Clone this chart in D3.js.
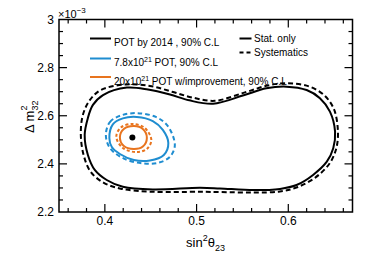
<!DOCTYPE html>
<html>
<head>
<meta charset="utf-8">
<script src="https://cdn.jsdelivr.net/npm/d3@7"></script>
<style>
  body { margin: 0; background: #fff; }
  text { font-family: "Liberation Sans", Arial, sans-serif; fill: #000; }
</style>
</head>
<body>
<div id="chart"></div>
<script>
// contour points: [sin^2 theta23, dm^2_32 (x1e-3)]
let stat2014 = [
    [0.378,2.520],[0.3815,2.591],[0.387,2.645],[0.398,2.686],[0.424,2.717],[0.447,2.709],
    [0.471,2.688],[0.492,2.664],[0.518,2.650],[0.5505,2.684],[0.576,2.714],
    [0.598,2.721],[0.620,2.707],[0.6345,2.673],[0.6454,2.617],[0.651,2.534],[0.649,2.465],
    [0.642,2.409],[0.627,2.354],[0.609,2.312],[0.591,2.296],[0.562,2.291],[0.5254,2.298],
    [0.5036,2.301],[0.4523,2.294],[0.4196,2.305],[0.402,2.333],[0.389,2.375],[0.3815,2.437]
];
let syst2014 = [
    [0.3738,2.520],[0.376,2.603],[0.3836,2.665],[0.3956,2.707],[0.4229,2.730],[0.4491,2.724],
    [0.4731,2.700],[0.495,2.676],[0.520,2.662],[0.5527,2.697],[0.5778,2.726],
    [0.5996,2.735],[0.6225,2.722],[0.6389,2.686],[0.6497,2.628],[0.6541,2.537],[0.6524,2.466],
    [0.6454,2.404],[0.6301,2.345],[0.6105,2.304],[0.5908,2.285],[0.5614,2.281],[0.5254,2.283],
    [0.5036,2.284],[0.4523,2.284],[0.4185,2.296],[0.3989,2.321],[0.3847,2.366],[0.3771,2.433]
];
let stat78 = [
    [0.4049,2.508],[0.4087,2.564],[0.4196,2.589],[0.4349,2.595],[0.4523,2.578],[0.4632,2.541],
    [0.4692,2.487],[0.4643,2.437],[0.4491,2.414],[0.4316,2.416],[0.4164,2.441],[0.4076,2.470]
];
let syst78 = [
    [0.4011,2.520],[0.4055,2.574],[0.4174,2.601],[0.4349,2.611],[0.4556,2.595],[0.4687,2.557],
    [0.4763,2.478],[0.4709,2.429],[0.4578,2.404],[0.4414,2.402],[0.4207,2.422],[0.4055,2.466]
];
let stat20 = [
    [0.4164,2.512],[0.4207,2.545],[0.4316,2.557],[0.4414,2.545],[0.4458,2.508],[0.4414,2.472],
    [0.4316,2.462],[0.4207,2.474]
];
let syst20 = [
    [0.4125,2.512],[0.4174,2.551],[0.4305,2.566],[0.4436,2.549],[0.4507,2.499],[0.4458,2.462],
    [0.4349,2.449],[0.4196,2.466]
];
let bestFit = [0.43, 2.51];

let xTicks = [0.4, 0.5, 0.6];
let yTicks = [2.2, 2.4, 2.6, 2.8, 3.0];
let yTickLabels = ["2.2", "2.4", "2.6", "2.8", "3"];

let W = 392, H = 266;
let L = 59, R = 352.5, T = 19.5, B = 212;

let svg = d3.select("#chart").append("svg")
    .attr("width", W)
    .attr("height", H);

let x = d3.scaleLinear().domain([0.35, 0.67]).range([L, R]);
let y = d3.scaleLinear().domain([2.2, 3.0]).range([B, T]);

let line = d3.line()
    .x(d => x(d[0]))
    .y(d => y(d[1]))
    .curve(d3.curveCatmullRomClosed);

let blue = "#1f8dd0", orange = "#e8741e";

// contours
let contours = [
    {pts: syst2014, color: "#000", dash: "5,3", w: 2},
    {pts: stat2014, color: "#000", dash: null, w: 2},
    {pts: syst78, color: blue, dash: "4.5,3", w: 2},
    {pts: stat78, color: blue, dash: null, w: 2},
    {pts: syst20, color: orange, dash: "3,2.2", w: 2},
    {pts: stat20, color: orange, dash: null, w: 2}
];
contours.forEach(c => {
    svg.append("path")
        .datum(c.pts)
        .attr("d", line)
        .attr("fill", "none")
        .attr("stroke", c.color)
        .attr("stroke-width", c.w)
        .attr("stroke-dasharray", c.dash);
});

svg.append("circle")
    .attr("cx", x(bestFit[0]))
    .attr("cy", y(bestFit[1]))
    .attr("r", 3)
    .attr("fill", "#000");

// frame
svg.append("rect")
    .attr("x", L).attr("y", T)
    .attr("width", R - L).attr("height", B - T)
    .attr("fill", "none")
    .attr("stroke", "#000")
    .attr("stroke-width", 1.5);

// ticks (inward on all sides)
let xMinor = d3.range(0.36, 0.6701, 0.02);
xMinor.forEach(v => {
    let major = xTicks.some(t => Math.abs(t - v) < 1e-6);
    let len = major ? 8 : 4;
    svg.append("line").attr("x1", x(v)).attr("x2", x(v)).attr("y1", B).attr("y2", B - len)
        .attr("stroke", "#000").attr("stroke-width", 1.2);
    svg.append("line").attr("x1", x(v)).attr("x2", x(v)).attr("y1", T).attr("y2", T + len)
        .attr("stroke", "#000").attr("stroke-width", 1.2);
});
let yMinor = d3.range(2.25, 2.9999, 0.05);
yMinor.forEach(v => {
    let major = yTicks.some(t => Math.abs(t - v) < 1e-6);
    let len = major ? 8 : 4;
    svg.append("line").attr("x1", L).attr("x2", L + len).attr("y1", y(v)).attr("y2", y(v))
        .attr("stroke", "#000").attr("stroke-width", 1.2);
    svg.append("line").attr("x1", R).attr("x2", R - len).attr("y1", y(v)).attr("y2", y(v))
        .attr("stroke", "#000").attr("stroke-width", 1.2);
});

// tick labels
xTicks.forEach(t => {
    svg.append("text")
        .attr("x", x(t)).attr("y", B + 13)
        .attr("text-anchor", "middle")
        .attr("font-size", 12)
        .text(t.toFixed(1));
});
yTicks.forEach((t, i) => {
    svg.append("text")
        .attr("x", L - 5).attr("y", y(t) + 4)
        .attr("text-anchor", "end")
        .attr("font-size", 12)
        .text(yTickLabels[i]);
});

// exponent
let ex = svg.append("text").attr("x", L - 1).attr("y", T - 2).attr("font-size", 11);
ex.append("tspan").text("\u00d710");
ex.append("tspan").attr("dy", -5).attr("font-size", 8).text("\u22123");

// axis titles
let xt = svg.append("text").attr("x", 186).attr("y", 247).attr("font-size", 13);
xt.append("tspan").text("sin");
xt.append("tspan").attr("dy", -6).attr("font-size", 9).text("2");
xt.append("tspan").attr("dy", 6).text("\u03b8");
xt.append("tspan").attr("dy", 4).attr("font-size", 9).text("23");

let yt = svg.append("text")
    .attr("transform", "translate(34,133) rotate(-90)")
    .attr("font-size", 13);
yt.append("tspan").text("\u0394 m");
yt.append("tspan").attr("dy", -7).attr("font-size", 9).text("2");
yt.append("tspan").attr("dx", -5).attr("dy", 11).attr("font-size", 9).text("32");

// legend
let legL = [
    {color: "#000", parts: [["POT by 2014 , 90% C.L"]], y: 38.5},
    {color: blue, parts: [["7.8x10"], ["21", true], [" POT, 90% C.L"]], y: 58.5},
    {color: orange, parts: [["20x10"], ["21", true], [" POT w/improvement, 90% C.L"]], y: 77}
];
legL.forEach(d => {
    svg.append("line")
        .attr("x1", 90).attr("x2", 111)
        .attr("y1", d.y).attr("y2", d.y)
        .attr("stroke", d.color).attr("stroke-width", 2);
    let t = svg.append("text").attr("x", 114).attr("y", d.y + 3.5).attr("font-size", 10);
    d.parts.forEach(p => {
        if (p[1]) t.append("tspan").attr("dy", -4).attr("font-size", 7).text(p[0]);
        else t.append("tspan").attr("dy", t.selectAll("tspan").size() ? 4 : 0).text(p[0]);
    });
});

let legR = [
    {label: "Stat. only", dash: null, y: 38.5},
    {label: "Systematics", dash: "4,3", y: 52.5}
];
legR.forEach(d => {
    svg.append("line")
        .attr("x1", 239.5).attr("x2", 251.5)
        .attr("y1", d.y).attr("y2", d.y)
        .attr("stroke", "#000").attr("stroke-width", 2)
        .attr("stroke-dasharray", d.dash);
    svg.append("text").attr("x", 254).attr("y", d.y + 3.5).attr("font-size", 10).text(d.label);
});
</script>
</body>
</html>
